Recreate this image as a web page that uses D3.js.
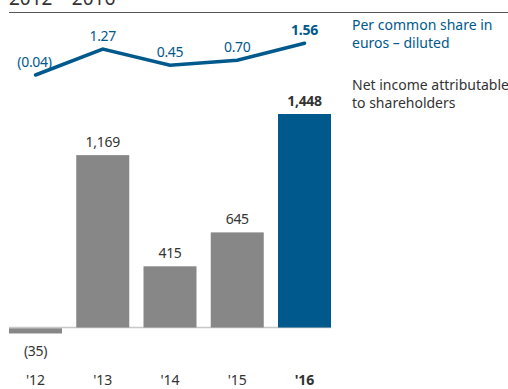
<!DOCTYPE html>
<html><head><meta charset="utf-8">
<script src="https://cdn.jsdelivr.net/npm/d3@7"></script>
<style>body{margin:0;background:#fff}svg{display:block}text{font-family:"Noto Sans",sans-serif}</style>
</head><body>
<script>
const years = ["'12","'13","'14","'15","'16"];
const netIncome = [-35, 1169, 415, 645, 1448];
const netIncomeLabels = ["(35)","1,169","415","645","1,448"];
const eps = [-0.04, 1.27, 0.45, 0.70, 1.56];
const epsLabels = ["(0.04)","1.27","0.45","0.70","1.56"];
const legendBlue = ["Per common share in","euros – diluted"];
const legendDark = ["Net income attributable","to shareholders"];

const W=508,H=389, blue="#00598c", grey="#878787", dark="#333";
const svg=d3.select("body").append("svg").attr("width",W).attr("height",H);

svg.append("text").attr("x",9).attr("y",5).attr("font-size",19).attr("fill",dark).text("2012 – 2016");
svg.append("line").attr("x1",9).attr("x2",W).attr("y1",12.5).attr("y2",12.5).attr("stroke","#555").attr("stroke-width",1.2);

const x=d3.scaleBand().domain(years).range([9,331]).paddingInner(0.212).paddingOuter(0);
const y=d3.scaleLinear().domain([0,1448]).range([327.5,114]);
const yl=d3.scaleLinear().domain([0,1.27]).range([74.2,49]);

svg.append("line").attr("x1",9).attr("x2",331).attr("y1",y(0)).attr("y2",y(0)).attr("stroke","#c8c8c8").attr("stroke-width",1.5);

svg.selectAll("rect.bar").data(netIncome).join("rect").attr("class","bar")
  .attr("x",(d,i)=>x(years[i])).attr("width",x.bandwidth())
  .attr("y",d=>d>=0?y(d):y(0)+0.8).attr("height",d=>Math.abs(y(d)-y(0)))
  .attr("fill",(d,i)=>i===4?blue:grey);

svg.selectAll("text.vl").data(netIncome).join("text").attr("class","vl")
  .attr("x",(d,i)=>x(years[i])+x.bandwidth()/2)
  .attr("y",d=>d>=0?y(d)-8:y(0)+28)
  .attr("text-anchor","middle").attr("font-size",14).attr("fill",dark)
  .attr("font-weight",(d,i)=>i===4?"bold":"normal").attr("letter-spacing",-0.3)
  .text((d,i)=>netIncomeLabels[i]);

svg.selectAll("text.xl").data(years).join("text").attr("class","xl")
  .attr("x",d=>x(d)+x.bandwidth()/2).attr("y",385)
  .attr("text-anchor","middle").attr("font-size",14).attr("fill",dark)
  .attr("font-weight",(d,i)=>i===4?"bold":"normal").text(d=>d);

const line=d3.line().x((d,i)=>x(years[i])+x.bandwidth()/2).y(d=>yl(d));
svg.append("path").datum(eps).attr("d",line).attr("fill","none").attr("stroke",blue).attr("stroke-width",3.5).attr("stroke-linecap","round");

svg.selectAll("text.el").data(eps).join("text").attr("class","el")
  .attr("x",(d,i)=>x(years[i])+x.bandwidth()/2+(i===0?-1:0)).attr("y",d=>yl(d)-8)
  .attr("text-anchor","middle").attr("font-size",14).attr("fill",blue)
  .attr("font-weight",(d,i)=>i===4?"bold":"normal").attr("letter-spacing",-0.3)
  .text((d,i)=>epsLabels[i]);

legendBlue.forEach((t,i)=>svg.append("text").attr("x",352).attr("y",30+i*18).attr("font-size",14).attr("fill",blue).text(t));
legendDark.forEach((t,i)=>svg.append("text").attr("x",352).attr("y",90+i*18).attr("font-size",14).attr("fill",dark).text(t));
</script>
</body></html>
